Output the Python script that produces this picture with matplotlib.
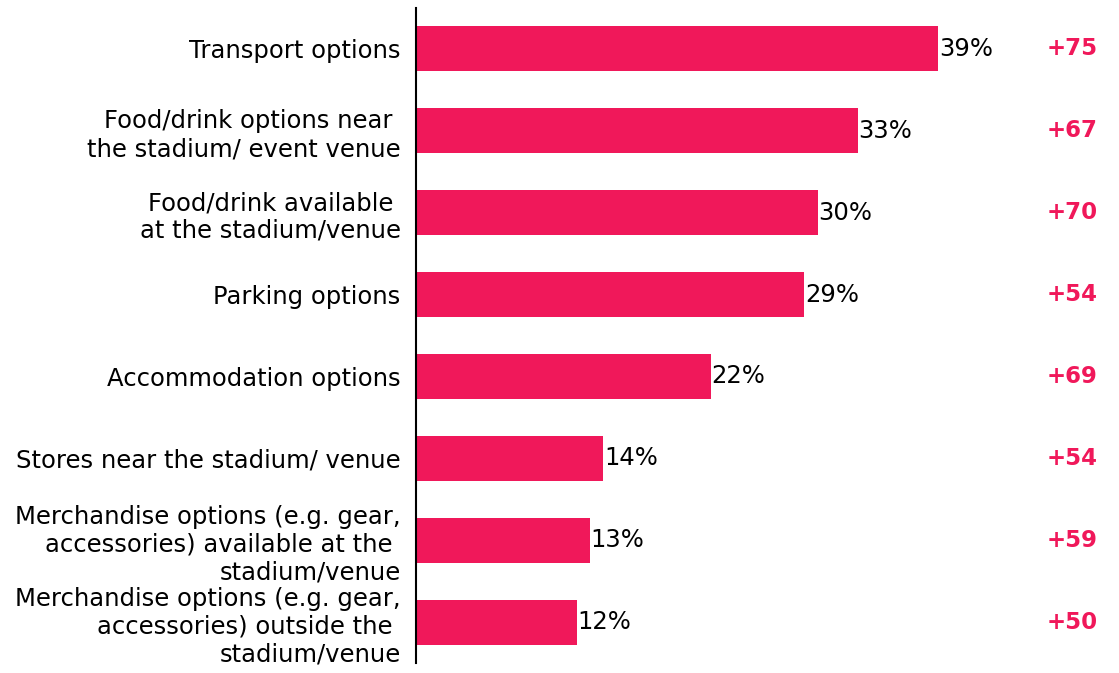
import matplotlib.pyplot as plt

categories = [
    'Transport options',
    'Food/drink options near \nthe stadium/ event venue',
    'Food/drink available \nat the stadium/venue',
    'Parking options',
    'Accommodation options',
    'Stores near the stadium/ venue',
    'Merchandise options (e.g. gear,\naccessories) available at the \nstadium/venue',
    'Merchandise options (e.g. gear,\naccessories) outside the \nstadium/venue',
]
shares = [39, 33, 30, 29, 22, 14, 13, 12]
net_scores = ['+75', '+67', '+70', '+54', '+69', '+54', '+59', '+50']

bar_color = '#F0185A'
plt.rcParams['font.family'] = ['DejaVu Sans']

fig = plt.figure(figsize=(11.19, 6.73), dpi=100)
ax = fig.add_axes([416 / 1119, 10 / 673, 703 / 1119, 655 / 673])

ind = list(range(len(shares)))
ax.barh(ind, shares, height=0.55, color=bar_color)

ax.set_xlim(0, 52.5)
ax.set_ylim(7.5, -0.5)

ax.set_yticks(ind)
ax.set_yticklabels(categories, fontsize=17.5, linespacing=1.2)
ax.tick_params(axis='y', length=0, pad=11)
ax.set_xticks([])

for s in ['top', 'right', 'bottom']:
    ax.spines[s].set_visible(False)
ax.spines['left'].set_linewidth(1.5)

for i, v in enumerate(shares):
    ax.text(v + 0.05, i, '%d%%' % v, va='center', ha='left', fontsize=17.5, color='black')

for i, s in enumerate(net_scores):
    ax.text(49.0, i, s, va='center', ha='center', fontsize=16.5, fontweight='bold', color=bar_color)

plt.savefig('out.png', dpi=100)
